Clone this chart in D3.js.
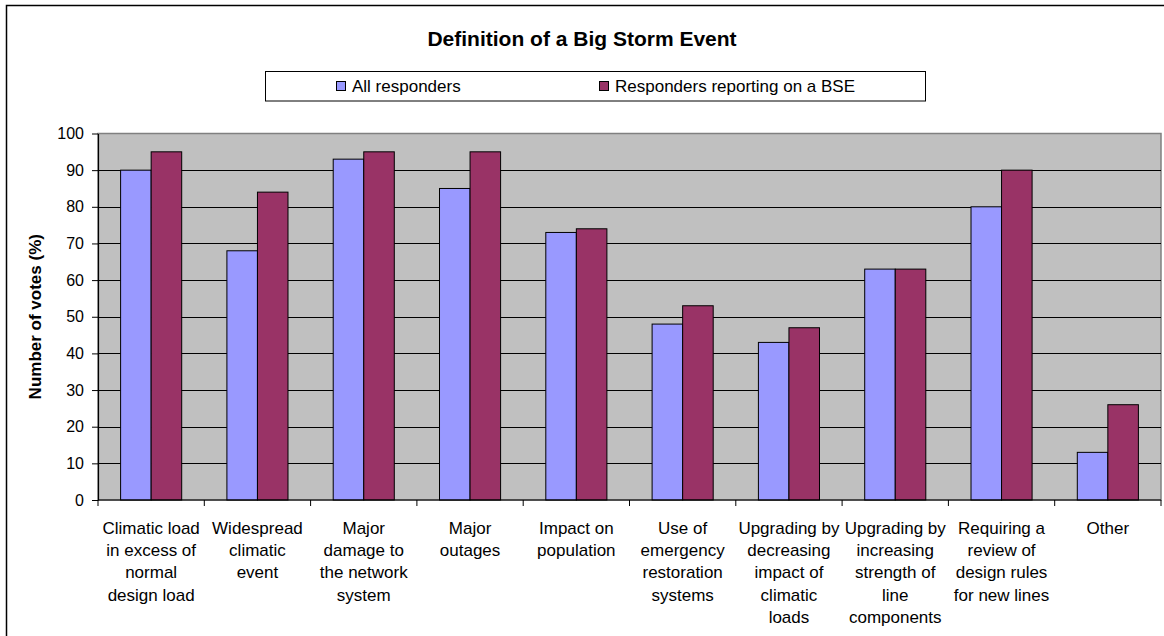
<!DOCTYPE html>
<html>
<head>
<meta charset="utf-8">
<script src="https://cdn.jsdelivr.net/npm/d3@7"></script>
<style>
  html, body { margin: 0; padding: 0; background: #fff; }
  svg { display: block; font-family: Arial, "Liberation Sans", sans-serif; }
</style>
</head>
<body>
<svg id="chart" width="1164" height="636"></svg>
<script>
// Category labels (pre-wrapped into lines)
const categories = [
  ["Climatic load", "in excess of", "normal", "design load"],
  ["Widespread", "climatic", "event"],
  ["Major", "damage to", "the network", "system"],
  ["Major", "outages"],
  ["Impact on", "population"],
  ["Use of", "emergency", "restoration", "systems"],
  ["Upgrading by", "decreasing", "impact of", "climatic", "loads"],
  ["Upgrading by", "increasing", "strength of", "line", "components"],
  ["Requiring a", "review of", "design rules", "for new lines"],
  ["Other"]
];
const seriesNames = ["All responders", "Responders reporting on a BSE"];
const allResponders = [90, 68, 93, 85, 73, 48, 43, 63, 80, 13];
const bseResponders = [95, 84, 95, 95, 74, 53, 47, 63, 90, 26];
const yTicks = [0, 10, 20, 30, 40, 50, 60, 70, 80, 90, 100];
const colors = ["#9999FF", "#993366"];

const svg = d3.select("#chart");

// chart frame
svg.append("rect")
  .attr("x", 6.5).attr("y", 5.5)
  .attr("width", 1170).attr("height", 640)
  .attr("fill", "#fff").attr("stroke", "#000").attr("stroke-width", 1.5);

const plot = { left: 98, right: 1161, top: 133.5, bottom: 500 };

const x0 = d3.scaleBand()
  .domain(d3.range(categories.length))
  .range([plot.left, plot.right])
  .paddingInner(0).paddingOuter(0);

const x1 = d3.scaleBand()
  .domain([0, 1])
  .range([0, x0.bandwidth()])
  .paddingInner(0)
  .paddingOuter(0.74);

const y = d3.scaleLinear().domain([0, 100]).range([plot.bottom, plot.top]);

// plot area background
svg.append("rect")
  .attr("x", plot.left).attr("y", plot.top)
  .attr("width", plot.right - plot.left).attr("height", plot.bottom - plot.top)
  .attr("fill", "#C0C0C0").attr("stroke", "#808080").attr("stroke-width", 1.5);

// gridlines
svg.append("g")
  .selectAll("line")
  .data(yTicks.filter(t => t > 0 && t < 100))
  .join("line")
  .attr("x1", plot.left).attr("x2", plot.right)
  .attr("y1", d => Math.round(y(d)) + 0.5).attr("y2", d => Math.round(y(d)) + 0.5)
  .attr("stroke", "#000").attr("stroke-width", 1);

// bars
const rows = categories.map((c, i) => [allResponders[i], bseResponders[i]]);
const groups = svg.append("g")
  .selectAll("g")
  .data(rows)
  .join("g")
  .attr("transform", (d, i) => `translate(${x0(i)},0)`);

groups.selectAll("rect")
  .data(d => d.map((v, k) => ({ v, k })))
  .join("rect")
  .attr("x", d => x1(d.k))
  .attr("y", d => y(d.v))
  .attr("width", x1.bandwidth())
  .attr("height", d => y(0) - y(d.v))
  .attr("fill", d => colors[d.k])
  .attr("stroke", "#000").attr("stroke-width", 1);

// y axis
const yAxis = svg.append("g")
  .attr("transform", `translate(${plot.left},0)`)
  .call(d3.axisLeft(y).tickValues(yTicks).tickSize(6).tickPadding(8).tickSizeOuter(0));
yAxis.select(".domain").attr("stroke", "#000").attr("stroke-width", 1.2);
yAxis.selectAll(".tick line").attr("stroke", "#000");
yAxis.selectAll(".tick text")
  .attr("font-size", 16).attr("fill", "#000")
  .attr("font-family", "Arial, 'Liberation Sans', sans-serif");

// x axis
const xTickPos = d3.range(categories.length + 1).map(i => plot.left + i * x0.step());
const xAxisG = svg.append("g");
xAxisG.append("line")
  .attr("x1", plot.left).attr("x2", plot.right)
  .attr("y1", plot.bottom).attr("y2", plot.bottom)
  .attr("stroke", "#000").attr("stroke-width", 1.2);
xAxisG.selectAll("line.tk")
  .data(xTickPos)
  .join("line")
  .attr("class", "tk")
  .attr("x1", d => d).attr("x2", d => d)
  .attr("y1", plot.bottom).attr("y2", plot.bottom + 6)
  .attr("stroke", "#000");

// category labels
const labels = svg.append("g")
  .selectAll("text")
  .data(categories)
  .join("text")
  .attr("text-anchor", "middle")
  .attr("font-size", 17)
  .attr("fill", "#000");
labels.each(function (lines, i) {
  const cx = x0(i) + x0.bandwidth() / 2;
  d3.select(this).selectAll("tspan")
    .data(lines)
    .join("tspan")
    .attr("x", cx)
    .attr("y", (d, j) => 533.5 + j * 22.4)
    .text(d => d);
});

// y axis title
svg.append("text")
  .attr("transform", `translate(41,${(plot.top + plot.bottom) / 2}) rotate(-90)`)
  .attr("text-anchor", "middle")
  .attr("font-size", 17).attr("font-weight", "bold")
  .text("Number of votes (%)");

// title
svg.append("text")
  .attr("x", 582).attr("y", 46)
  .attr("text-anchor", "middle")
  .attr("font-size", 21).attr("font-weight", "bold")
  .text("Definition of a Big Storm Event");

// legend
const legend = svg.append("g");
legend.append("rect")
  .attr("x", 265.5).attr("y", 71.5)
  .attr("width", 660).attr("height", 29.5)
  .attr("fill", "#fff").attr("stroke", "#000").attr("stroke-width", 1);
const legendX = [336, 599];
const items = legend.selectAll("g.item")
  .data(seriesNames)
  .join("g")
  .attr("class", "item")
  .attr("transform", (d, i) => `translate(${legendX[i]},0)`);
items.append("rect")
  .attr("x", 0.5).attr("y", 81.5)
  .attr("width", 9).attr("height", 9)
  .attr("fill", (d, i) => colors[i]).attr("stroke", "#000").attr("stroke-width", 1);
items.append("text")
  .attr("x", 16).attr("y", 92)
  .attr("font-size", 17)
  .text(d => d);
</script>
</body>
</html>
